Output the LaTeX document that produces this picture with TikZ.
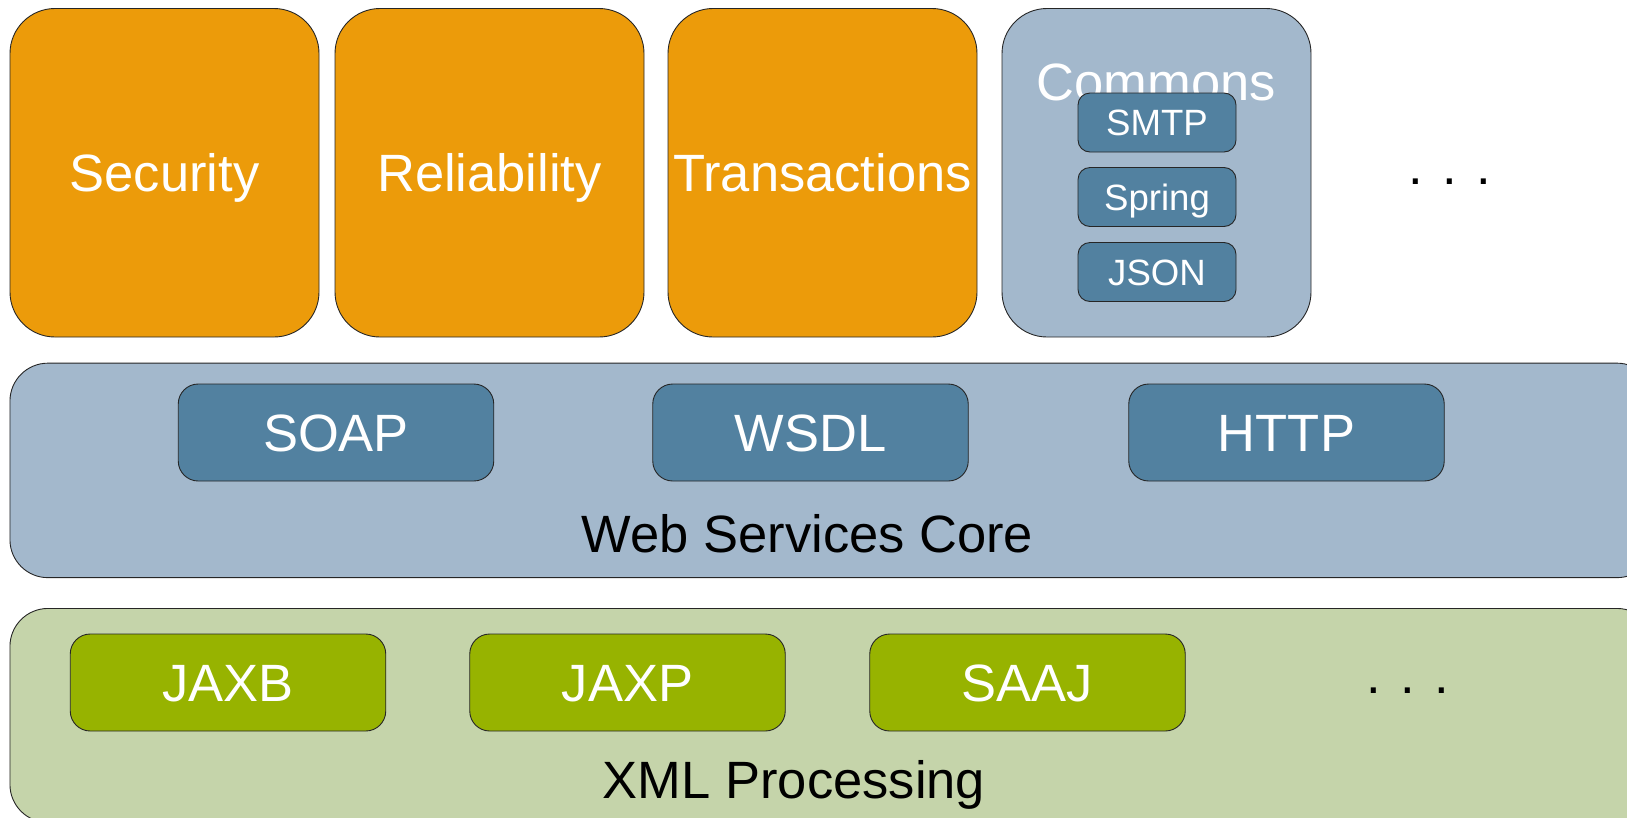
\documentclass[tikz,border=0pt]{standalone}
\usepackage{fontspec}
\setmainfont{Liberation Sans}
\definecolor{orangeC}{RGB}{236,155,10}
\definecolor{paleBlue}{RGB}{163,184,204}
\definecolor{steelBlue}{RGB}{82,129,160}
\definecolor{paleGreen}{RGB}{197,212,170}
\definecolor{oliveGreen}{RGB}{151,179,0}
\begin{document}
\begin{tikzpicture}[x=1pt,y=-1pt,
  box/.style={draw=black!85, line width=0.9pt, inner sep=0pt},
  bigtxt/.style={font=\fontsize{52.5}{63}\selectfont},
  smalltxt/.style={font=\fontsize{36.6}{44}\selectfont},
  bigc/.style={bigtxt, text height=37.6pt, text depth=0pt},
  smallc/.style={smalltxt, text height=26.2pt, text depth=0pt},
  topbox/.style={box, rounded corners=45pt, minimum width=309pt, minimum height=328.5pt, text=white, bigc},
  layerbox/.style={box, rounded corners=38pt, minimum width=1645pt},
  corebox/.style={box, fill=steelBlue, rounded corners=20pt, minimum width=315.5pt, minimum height=97pt, text=white, bigc},
  xmlbox/.style={box, fill=oliveGreen, rounded corners=20pt, minimum width=315.5pt, minimum height=97pt, text=white, bigc},
  commonbox/.style={box, fill=steelBlue, rounded corners=12pt, minimum width=158pt, minimum height=59pt, text=white, smallc},
  dots/.style={bigtxt, anchor=base, text=black, inner sep=0pt}
]
\useasboundingbox (0,0) rectangle (1627,817);
\clip (0,0) rectangle (1627,817);

% top row
\node[topbox, fill=orangeC] (security) at (164.5,172.75) {Security};
\node[topbox, fill=orangeC] (reliability) at (489.5,172.75) {Reliability};
\node[topbox, fill=orangeC] (transactions) at (822.5,172.75) {Transactions};
\node[topbox, fill=paleBlue] (commons) at (1156.5,172.75) {};
\node[bigtxt, anchor=base, text=white, inner sep=0pt] (commonslbl) at (1156.5,100) {Commons};
\node[commonbox] (smtp) at (1157,122.5) {SMTP};
\node[commonbox] (spring) at (1157,197) {Spring};
\node[commonbox] (json) at (1157,272) {JSON};
\node[dots] (topdots) at (1450,184) {. . .};

% web services core
\node[layerbox, fill=paleBlue, minimum height=214.5pt, anchor=north west] (wscore) at (9.5,362.7) {};
\node[corebox] (soap) at (336,432.5) {SOAP};
\node[corebox] (wsdl) at (810.5,432.5) {WSDL};
\node[corebox] (http) at (1286.5,432.5) {HTTP};
\node[bigtxt, anchor=base, inner sep=0pt] (wslbl) at (807.5,552) {Web Services Core};

% xml processing
\node[layerbox, fill=paleGreen, minimum height=214pt, anchor=north west] (xmlproc) at (9.5,608) {};
\node[xmlbox] (jaxb) at (228,682.5) {JAXB};
\node[xmlbox] (jaxp) at (627.5,682.5) {JAXP};
\node[xmlbox] (saaj) at (1027.5,682.5) {SAAJ};
\node[dots] (xmldots) at (1408,693) {. . .};
\node[bigtxt, anchor=base, inner sep=0pt] (xmllbl) at (794,798) {XML Processing};
\end{tikzpicture}
\end{document}
